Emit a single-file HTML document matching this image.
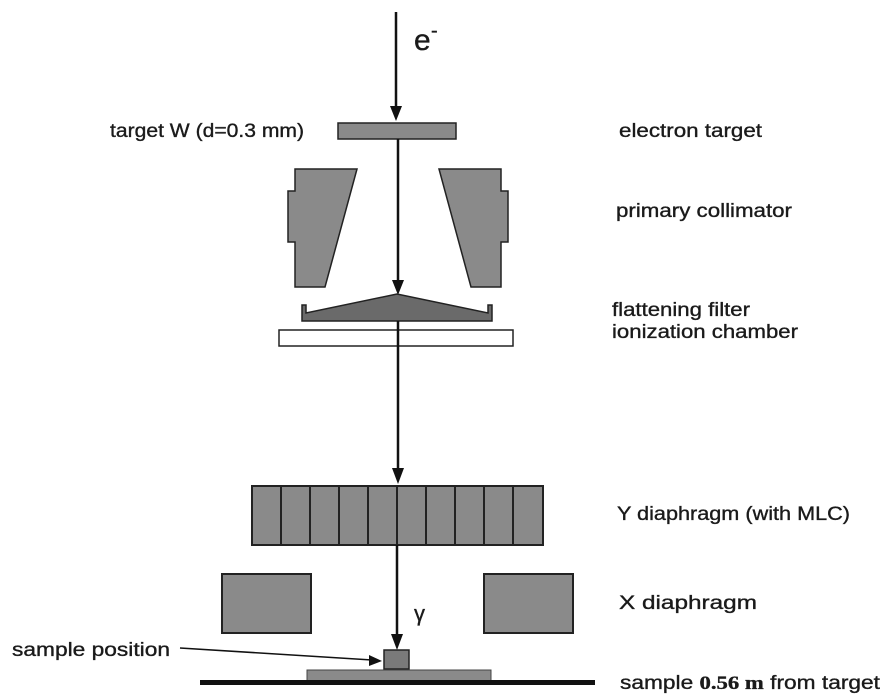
<!DOCTYPE html>
<html><head><meta charset="utf-8"><style>
html,body{margin:0;padding:0;background:#fff;}
svg{display:block;}
text{font-family:"Liberation Sans",Arial,sans-serif;font-size:19px;fill:#1a1a1a;stroke:#1a1a1a;stroke-width:0.35;}
</style></head><body>
<svg width="895" height="700" viewBox="0 0 895 700" xmlns="http://www.w3.org/2000/svg">
<!-- e- arrow -->
<line x1="396" y1="12" x2="396" y2="110" stroke="#111" stroke-width="2.5"/>
<polygon points="390,106 402,106 396,121" fill="#111"/>
<text x="414" y="50" style="font-size:30px">e</text><text x="431" y="37" style="font-size:20px">-</text>
<!-- target -->
<rect x="338" y="123" width="118" height="16" fill="#8a8a8a" stroke="#222" stroke-width="1.5"/>
<text x="110" y="137" textLength="194" lengthAdjust="spacingAndGlyphs">target W (d=0.3 mm)</text>
<text x="619" y="137" textLength="143" lengthAdjust="spacingAndGlyphs">electron target</text>
<!-- collimators -->
<path d="M295,169 L357,169 L325,287 L295,287 L295,242 L288,242 L288,191 L295,191 Z" fill="#8a8a8a" stroke="#222" stroke-width="1.5"/>
<path d="M501,169 L439,169 L471,287 L501,287 L501,242 L508,242 L508,191 L501,191 Z" fill="#8a8a8a" stroke="#222" stroke-width="1.5"/>
<text x="616" y="217" textLength="176" lengthAdjust="spacingAndGlyphs">primary collimator</text>
<line x1="398" y1="139" x2="398" y2="284" stroke="#111" stroke-width="2.5"/>
<polygon points="392,280 404,280 398,295" fill="#111"/>
<!-- flattening filter -->
<path d="M302,305 L306,305 L306,313 L397,294 L488,313 L488,305 L492,305 L492,321 L302,321 Z" fill="#6a6a6a" stroke="#222" stroke-width="1.5"/>
<rect x="279" y="330" width="234" height="16" fill="#fff" stroke="#222" stroke-width="1.5"/>
<text x="612" y="316" textLength="138" lengthAdjust="spacingAndGlyphs">flattening filter</text>
<text x="612" y="338" textLength="186" lengthAdjust="spacingAndGlyphs">ionization chamber</text>
<line x1="398" y1="321" x2="398" y2="472" stroke="#111" stroke-width="2.5"/>
<polygon points="392,468 404,468 398,484" fill="#111"/>
<!-- MLC -->
<rect x="252" y="486" width="291" height="59" fill="#8a8a8a" stroke="#222" stroke-width="2"/>
<g stroke="#222" stroke-width="2">
<line x1="281" y1="486" x2="281" y2="545"/><line x1="310" y1="486" x2="310" y2="545"/><line x1="339" y1="486" x2="339" y2="545"/><line x1="368" y1="486" x2="368" y2="545"/><line x1="397" y1="486" x2="397" y2="545"/><line x1="426" y1="486" x2="426" y2="545"/><line x1="455" y1="486" x2="455" y2="545"/><line x1="484" y1="486" x2="484" y2="545"/><line x1="513" y1="486" x2="513" y2="545"/>
</g>
<text x="617" y="520" textLength="233" lengthAdjust="spacingAndGlyphs">Y diaphragm (with MLC)</text>
<!-- X diaphragm -->
<rect x="222" y="574" width="89" height="59" fill="#8a8a8a" stroke="#222" stroke-width="2"/>
<rect x="484" y="574" width="89" height="59" fill="#8a8a8a" stroke="#222" stroke-width="2"/>
<text x="619" y="609" textLength="138" lengthAdjust="spacingAndGlyphs">X diaphragm</text>
<line x1="397" y1="545" x2="397" y2="638" stroke="#111" stroke-width="2.5"/>
<polygon points="391,634 403,634 397,650" fill="#111"/>
<text x="414" y="621" style="font-size:22px">γ</text>
<!-- sample -->
<rect x="384" y="650" width="25" height="19" fill="#7a7a7a" stroke="#222" stroke-width="1.5"/>
<rect x="307" y="670" width="184" height="11" fill="#8a8a8a" stroke="#444" stroke-width="1"/>
<rect x="200" y="680" width="395" height="5" fill="#111"/>
<text x="12" y="656" textLength="158" lengthAdjust="spacingAndGlyphs">sample position</text>
<line x1="180" y1="648" x2="372" y2="660" stroke="#111" stroke-width="1.5"/>
<polygon points="369,655 382,661 369,666" fill="#111"/>
<text x="620" y="689" textLength="260" lengthAdjust="spacingAndGlyphs">sample <tspan style="font-family:'Liberation Serif',serif;font-weight:bold">0.56 m</tspan> from target</text>
</svg>
</body></html>
